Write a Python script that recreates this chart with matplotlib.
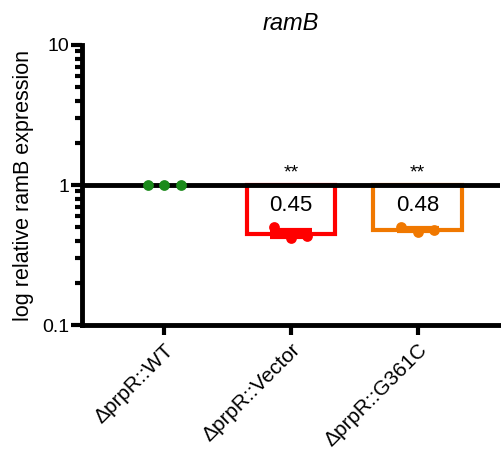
import numpy as np
import matplotlib
matplotlib.use('Agg')
import matplotlib.pyplot as plt
from matplotlib.ticker import LogLocator, NullFormatter, FixedLocator, FixedFormatter

plt.rcParams['font.family'] = ['Liberation Sans', 'DejaVu Sans']

# Strains and replicate measurements (relative to WT)
strains = ['\u0394prpR::WT', '\u0394prpR::Vector', '\u0394prpR::G361C']
wt_reps = [1.0, 1.0, 1.0]
vector_reps = [0.50, 0.42, 0.43]
g361c_reps = [0.50, 0.46, 0.48]
means = [1.0, 0.45, 0.48]
sems = [0.0, 0.025, 0.012]
stars = ['', '**', '**']
colors = ['#1a8a1a', '#ff0000', '#f07800']

replicates = [wt_reps, vector_reps, g361c_reps]
jitter = [-0.13, 0.0, 0.13]

fig = plt.figure(figsize=(5.02, 4.54), dpi=100)
ax = fig.add_axes([0.163, 0.284, 0.833, 0.617])

x = np.arange(len(strains))
baseline = 1.0

for i in range(len(strains)):
    if means[i] != baseline:
        # bars hang down from the reference line at 1
        ax.bar(x[i], means[i] - baseline, bottom=baseline, width=0.7,
               facecolor='white', edgecolor=colors[i], linewidth=3, zorder=2)
        ax.errorbar(x[i], means[i], yerr=sems[i], color=colors[i],
                    capsize=15, capthick=3, elinewidth=3, fmt='none', zorder=3)
        ax.text(x[i], 0.71, '%.2f' % means[i], ha='center', va='center',
                fontsize=16, zorder=4)
        ax.text(x[i], 1.21, stars[i], ha='center', va='center', fontsize=14)
    ax.scatter(x[i] + np.array(jitter), replicates[i], s=60, color=colors[i],
               zorder=5, linewidths=0)

ax.axhline(1.0, color='black', linewidth=3.5, zorder=4)

ax.set_yscale('log')
ax.set_ylim(0.1, 10)
ax.set_xlim(-0.65, 2.65)
ax.yaxis.set_major_locator(FixedLocator([0.1, 1, 10]))
ax.yaxis.set_major_formatter(FixedFormatter(['0.1', '1', '10']))
ax.yaxis.set_minor_locator(LogLocator(base=10, subs=np.arange(2, 10)))
ax.yaxis.set_minor_formatter(NullFormatter())

ax.set_xticks(x)
ax.set_xticklabels(strains, rotation=45, ha='right', rotation_mode='anchor',
                   fontsize=15)

for side in ['top', 'right']:
    ax.spines[side].set_visible(False)
for side in ['left', 'bottom']:
    ax.spines[side].set_linewidth(3.5)

ax.tick_params(axis='y', which='major', length=8, width=3, labelsize=14, pad=1)
ax.tick_params(axis='y', which='minor', length=5, width=3)
ax.tick_params(axis='x', length=7, width=3, pad=4)

ax.set_ylabel('log relative ramB expression', fontsize=15.5, labelpad=6)
ax.set_title('ramB', fontsize=17, style='italic', pad=11)

fig.savefig('out.png', dpi=100)
